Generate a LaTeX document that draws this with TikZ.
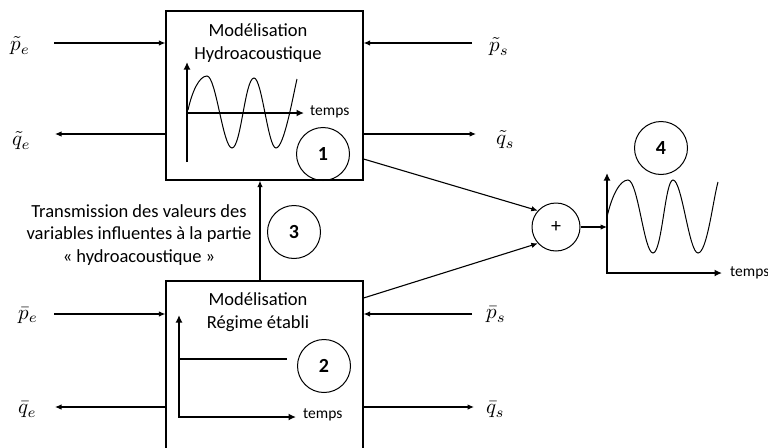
\documentclass[tikz,border=0pt]{standalone}
\usepackage{fontspec}
\setmainfont{Carlito}
\usetikzlibrary{arrows.meta}
\newcommand{\biglbl}[1]{\scalebox{2.1}{$#1$}}
\begin{document}
\begin{tikzpicture}[x=1pt,y=-1pt,
  conn/.style={line width=1.1pt,-{Latex[length=6.5pt,width=5.5pt]}},
  axistip/.style={line width=2.2pt},
  wave/.style={line width=1pt},
  blk/.style={draw,line width=1.1pt,minimum width=197pt,inner sep=0pt},
  num/.style={draw,circle,line width=1pt,minimum size=53pt,inner sep=0pt,font=\fontsize{20}{22}\selectfont\bfseries},
  lbl/.style={font=\fontsize{18.5}{23}\selectfont,align=center,inner sep=0pt},
  tlbl/.style={font=\fontsize{15.5}{18}\selectfont,anchor=west,inner sep=0pt},
  var/.style={anchor=west,inner sep=0pt}]
\useasboundingbox (0,0) rectangle (768,447);
\clip (0,0) rectangle (768,447);

% blocks
\node[blk,minimum height=169pt] (box1) at (264.5,95.5) {};
\node[blk,minimum height=180pt] (box2) at (264.5,371) {};

% titles
\node[lbl] (t1) at (258,43) {Modélisation\\Hydroacoustique};
\node[lbl] (t2) at (258,312) {Modélisation\\Régime établi};
\node[lbl,font=\fontsize{18.5}{22.5}\selectfont] (t3) at (139,235) {Transmission des valeurs des\\variables influentes à la partie\\« hydroacoustique »};

% inputs / outputs top block
\coordinate (pein) at (54,43);
\coordinate (qeout) at (55,134);
\coordinate (psin) at (472,43);
\coordinate (qsout) at (476,134);
\draw[conn] (pein) -- (pein -| box1.west);
\draw[conn] (qeout -| box1.west) -- (qeout);
\draw[conn] (psin) -- (psin -| box1.east);
\draw[conn] (qsout -| box1.east) -- (qsout);
\node[var] (lpe) at (10,46) {\biglbl{\tilde{p}_e}};
\node[var] (lqe) at (12,141) {\biglbl{\tilde{q}_e}};
\node[var] (lps) at (489,47) {\biglbl{\tilde{p}_s}};
\node[var] (lqs) at (496,140) {\biglbl{\tilde{q}_s}};

% inputs / outputs bottom block
\coordinate (pbein) at (54,314);
\coordinate (qbeout) at (55,407);
\coordinate (pbsin) at (472,314);
\coordinate (qbsout) at (474,407);
\draw[conn] (pbein) -- (pbein -| box2.west);
\draw[conn] (qbeout -| box2.west) -- (qbeout);
\draw[conn] (pbsin) -- (pbsin -| box2.east);
\draw[conn] (qbsout -| box2.east) -- (qbsout);
\node[var] (lpbe) at (18,315.5) {\biglbl{\bar{p}_e}};
\node[var] (lqbe) at (18,410) {\biglbl{\bar{q}_e}};
\node[var] (lpbs) at (486,315) {\biglbl{\bar{p}_s}};
\node[var] (lqbs) at (486,410) {\biglbl{\bar{q}_s}};

% transmission arrow
\draw[conn] ([xshift=-4.5pt]box2.north) -- ([xshift=-4.5pt]box1.south);

% numbered circles
\node[num] (n1) at (323,154) {1};
\node[num] (n2) at (324,366) {2};
\node[num] (n3) at (294,232) {3};
\node[num] (n4) at (661,148) {4};

% sum
\node[draw,circle,line width=1pt,minimum size=48pt,inner sep=0pt,font=\fontsize{20}{22}\selectfont] (sum) at (556,227) {+};
\draw[conn] ([yshift=-63.5pt]box1.east) -- (sum.138);
\draw[conn] ([yshift=73pt]box2.east) -- (sum.222);
\coordinate (ax4) at (607,227);
\draw[conn] (sum.east) -- (ax4);

% plot 1
\draw[axistip,-{Latex[length=7.5pt,width=7pt]}] (187,162) -- (187,62);
\draw[axistip,-{Latex[length=7.5pt,width=7pt]}] (187,113) -- (304,113);
\draw[wave] (188,110) .. controls (192,92) and (199,76) .. (207,76)
  .. controls (216,76) and (223,148) .. (232,148)
  .. controls (241,148) and (245,78) .. (254,78)
  .. controls (262,78) and (268,148) .. (276,148)
  .. controls (284,148) and (293,96) .. (297,79);
\node[tlbl] (tp1) at (310,112) {temps};

% plot 2
\draw[axistip,{Latex[length=7.5pt,width=7pt]}-{Latex[length=7.5pt,width=7pt]}] (179,315) -- (179,417) -- (296,417);
\draw[line width=2.2pt] (179,359) -- (287,359);
\node[tlbl] (tp2) at (303,415) {temps};

% plot 4
\draw[axistip,{Latex[length=7.5pt,width=7pt]}-{Latex[length=7.5pt,width=7pt]}] (607,173) -- (607,273) -- (722,273);
\draw[wave] (607,217) .. controls (612,195) and (620,180) .. (628,180)
  .. controls (638,180) and (644,253) .. (653,253)
  .. controls (662,253) and (665,180) .. (673,180)
  .. controls (682,180) and (689,253) .. (698,253)
  .. controls (707,253) and (713,200) .. (718,182);
\node[tlbl] (tp4) at (730,273) {temps};
\end{tikzpicture}
\end{document}
